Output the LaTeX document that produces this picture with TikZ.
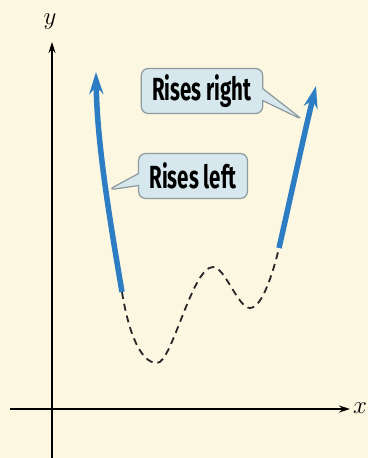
\documentclass[tikz,border=0pt]{standalone}
\usepackage{fontspec}
\usetikzlibrary{arrows.meta,shapes.callouts}
\newfontfamily\calloutfont[FakeStretch=0.64]{Fira Sans}
\definecolor{paper}{HTML}{FBF7E1}
\definecolor{riseblue}{HTML}{2C7DC3}
\definecolor{bubblefill}{HTML}{D7E7EE}
\definecolor{bubbleedge}{HTML}{8C9A9E}

\begin{document}
\begin{tikzpicture}[x=1pt,y=-1pt,
  axis/.style={line width=1.3pt,-{Stealth[length=11pt,width=7pt]}},
  rise/.style={riseblue,line width=5.5pt,-{Stealth[length=22pt,width=14pt]}},
  wiggle/.style={black!85,line width=1.8pt,dash pattern=on 7pt off 5pt},
  bubble/.style={rectangle callout,rounded corners=7pt,draw=bubbleedge,fill=bubblefill,
    line width=1.2pt,callout pointer width=12pt,inner xsep=11pt,inner ysep=6pt,
    minimum height=45pt,font=\calloutfont\bfseries\fontsize{32}{34}\selectfont}]
  % Fondo
  \fill[paper] (0,0) rectangle (368,458);
  \useasboundingbox (0,0) rectangle (368,458);

  % Ejes
  \coordinate (ybot) at (52,458);
  \coordinate (ytop) at (52,42);
  \coordinate (xleft) at (10,409);
  \coordinate (xright) at (350,409);
  \draw[axis] (ybot) -- (ytop);
  \draw[axis] (xleft) -- (xright);
  \node[font=\fontsize{26}{28}\selectfont,inner sep=0pt] (ylab) at (50,22) {$y$};
  \node[font=\fontsize{26}{28}\selectfont,inner sep=0pt,anchor=west] (xlab) at (353,408) {$x$};

  % Extremos del polinomio
  \coordinate (lefttail) at (122,292);
  \coordinate (lefthead) at (96,72);
  \coordinate (righttail) at (279,248);
  \coordinate (righthead) at (316,86);
  \coordinate (trough) at (157,363);
  \coordinate (hump) at (213,267);
  \coordinate (dip) at (250,308);

  % Parte central (punteada)
  \draw[wiggle] (lefttail) .. controls (128,330) and (140,363) .. (trough)
    .. controls (172,363) and (192,267) .. (hump)
    .. controls (225,267) and (238,308) .. (dip)
    .. controls (262,308) and (273,273) .. (righttail);

  % Ramas que suben
  \draw[rise] (lefttail) .. controls (108,210) and (97,140) .. (lefthead);
  \draw[rise] (righttail) .. controls (290,200) and (305,130) .. (righthead);

  % Globos
  \node[bubble,callout absolute pointer={(303,120)}] (riseright) at (202,91) {Rises right};
  \node[bubble,callout absolute pointer={(108,190)}] (riseleft) at (193,176) {Rises left};
\end{tikzpicture}
\end{document}
